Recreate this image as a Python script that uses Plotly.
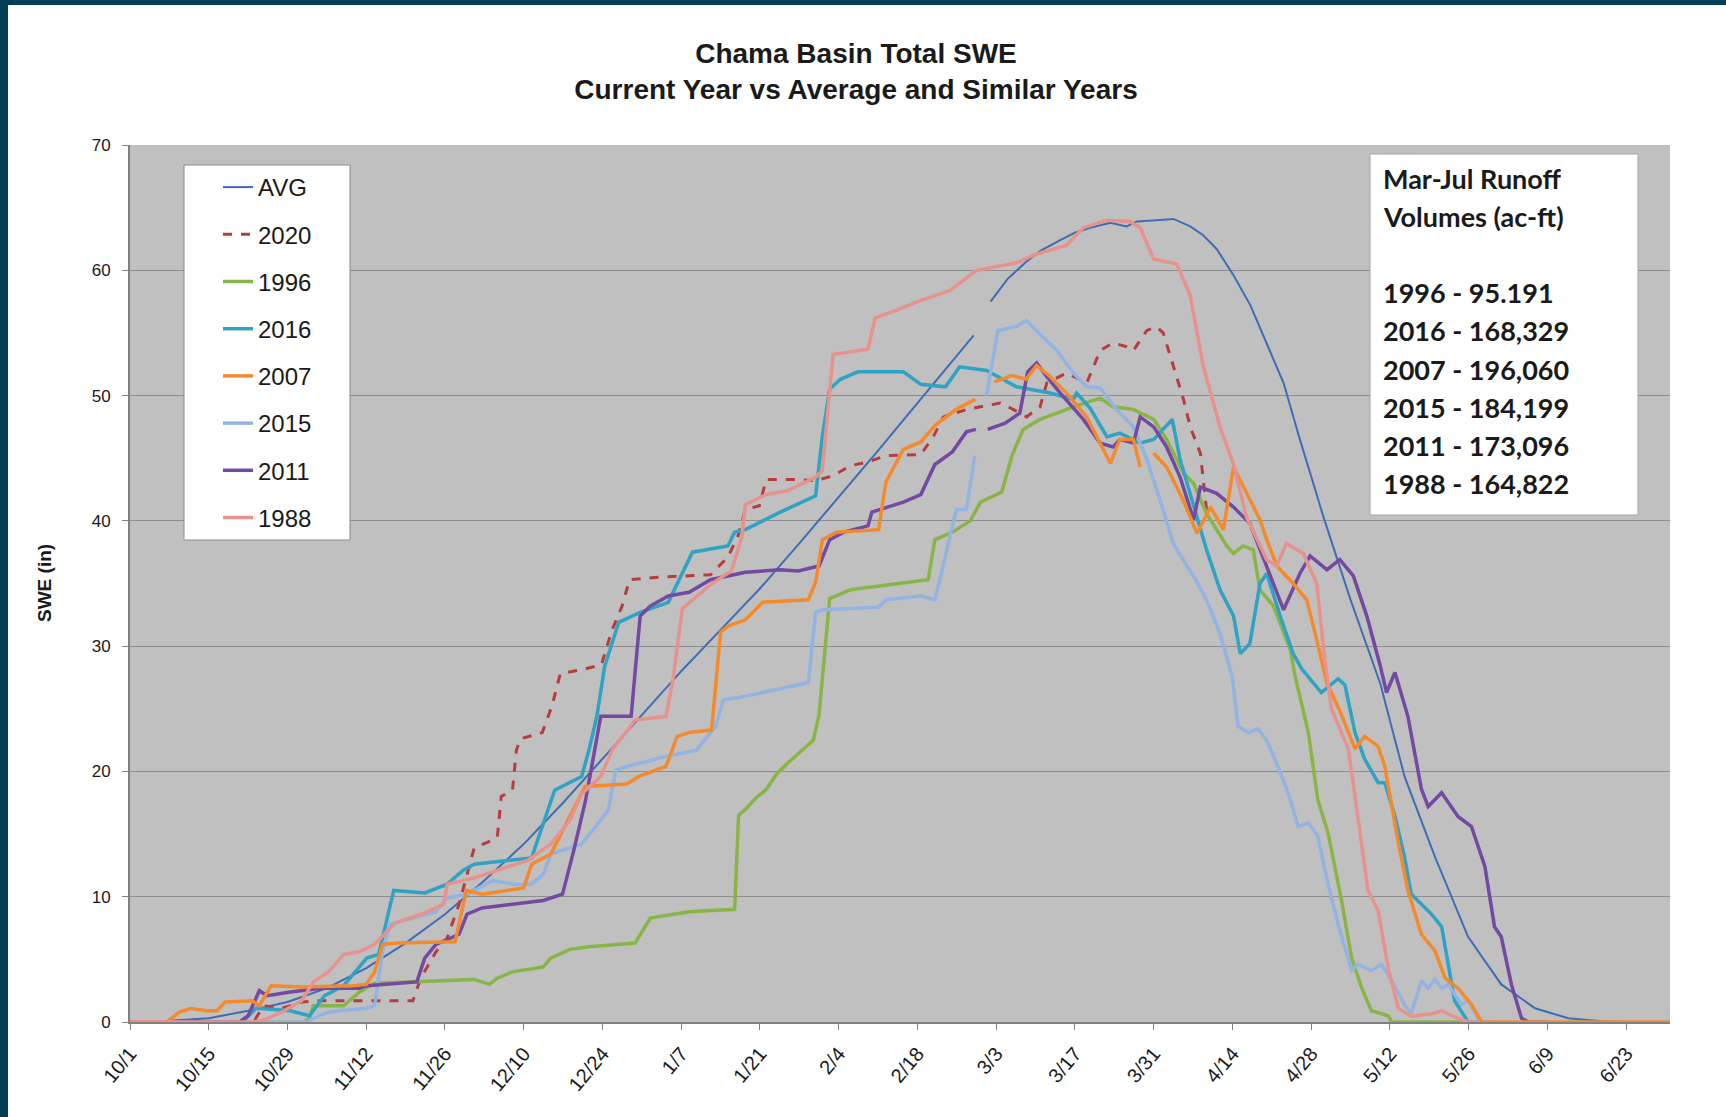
import pandas as pd
import plotly.graph_objects as go

season_start = pd.Timestamp("2019-10-01")

# Day offsets from 10/1 and SWE (in); None marks a gap in the record
avg_days = [0, 7, 14, 21, 28, 35, 42, 49, 56, 63, 70, 77, 84, 91, 98, 105, 112, 119, 126, 133,
            140, 146, 150, 151.5, 153, 156, 159.4, 162, 165.4, 168, 170.7, 174.3, 177.2, 179,
            182.5, 185.5, 188.5, 190.8, 193.2, 196.2, 199.2, 202.1, 205.1, 208, 212.2, 217,
            222.3, 226.6, 232, 237.9, 243.8, 249.8, 255.7, 261.6, 266, 274]
avg_swe = [0, 0.1, 0.3, 0.9, 1.6, 2.7, 4.3, 6.3, 8.6, 11.3, 14.2, 17.5, 21, 24.5, 28, 31.3, 34.6,
           38.2, 41.9, 45.6, 49.4, 52.6, 54.8, None, 57.5, 59.3, 60.7, 61.6, 62.4, 63.0, 63.4,
           63.8, 63.5, 63.9, 64.0, 64.1, 63.5, 62.8, 61.7, 59.6, 57.2, 54.2, 51.0, 46.5, 40.3,
           33.7, 27, 19.6, 13.2, 6.8, 3.0, 1.1, 0.3, 0.05, 0, 0]

y2020_days = [0, 22, 23.7, 27.1, 30.5, 34, 50.3, 51.7, 54.4, 56.4, 58.5, 59.8, 61.2, 63.3, 65.3,
              66, 68, 68.7, 69.4, 73.3, 75, 76.5, 80.1, 83.8, 85.7, 87.5, 88.8, 93.8, 100,
              103.2, 106.3, 108.1, 109.4, 111.9, 113.1, 118.1, 121.9, 125, 128.1, 131.2, 134.3,
              140.6, 142.8, 144.6, 148.8, 154.7, 157, 159.4, 161.8, 163, 166.5, 170.1, 172.5,
              174.8, 177.2, 178.4, 180.8, 182.5, 183.7, 185.5, 187.3, 188.5, 190.3, 191.5]
y2020_swe = [0, 0, 1.3, 1.1, 1.6, 1.7, 1.7, 3.5, 5.6, 6.7, 9.4, 11.5, 13.9, 14.3, 14.7, 18.0,
             18.5, 21.7, 22.6, 23.1, 25.2, 27.8, 28.1, 28.5, 31.3, 33.2, 35.3, 35.5, 35.6, 35.7,
             37.1, 38.8, 40.9, 41.2, 43.3, 43.3, 43.2, 43.6, 44.4, 44.7, 45.2, 45.3, 46.7, 48.3,
             48.9, 49.4, 48.9, 48.3, 49.1, 51.0, 51.8, 51.0, 53.6, 54.2, 53.9, 53.6, 55.2, 55.5,
             55.0, 52.3, 49.7, 47.5, 45.4, 40.5]

y1996_days = [0, 31, 31.9, 32.6, 38, 40.8, 43.5, 51, 61.2, 63.9, 65.3, 68, 73.5, 74.8, 78.2,
              81.6, 89.8, 92.5, 96.6, 99.4, 107.5, 108.2, 109.5, 111.3, 113, 115, 117, 119.4,
              121.5, 122.5, 124.4, 128.1, 133.1, 137.5, 141.9, 143.1, 146.2, 149.4, 151.2, 155,
              156.8, 158.8, 161.8, 164.8, 167.7, 172.5, 174.8, 178.4, 182, 184.3, 187.3, 189.1,
              191.4, 195, 196.2, 197.9, 199.7, 200.9, 203.3, 206.3, 207.1, 209.5, 211.2, 213,
              215.4, 217.2, 219, 220.7, 223.7, 224.3, 238]
y1996_swe = [0, 0, 0.3, 1.3, 1.3, 2.4, 3.1, 3.2, 3.4, 3.0, 3.5, 4.0, 4.4, 5.1, 5.8, 6.0, 6.3,
             8.3, 8.6, 8.8, 9.0, 16.5, 17.0, 17.9, 18.5, 19.8, 20.7, 21.7, 22.5, 24.5, 33.8,
             34.5, 34.8, 35.0, 35.3, 38.5, 39.1, 40.0, 41.5, 42.3, 45.2, 47.3, 48.1, 48.6, 49.1,
             49.8, 49.1, 48.9, 48.1, 46.5, 43.8, 43.0, 40.6, 38.0, 37.4, 38.0, 37.7, 34.5, 33.2,
             29.7, 27.7, 23.1, 17.7, 15.1, 9.7, 5.1, 2.7, 0.9, 0.5, 0, 0]

y2016_days = [0, 20, 22.4, 28.5, 31.9, 34.6, 38, 42.1, 44.2, 46.9, 52.4, 56.4, 59.2, 61.2, 71.4,
              73.5, 75.5, 80.3, 81.6, 83, 84.4, 86.9, 90.7, 95.7, 98.2, 100, 106.3, 107.5,
              109.4, 115.6, 121.9, 123.1, 124.4, 126.3, 129.4, 137.5, 140.6, 145, 147.5, 152.3,
              157.6, 163.6, 167.7, 168.3, 170.7, 173.7, 176, 179.6, 182, 185.3, 186.7, 189.1,
              191.4, 193.8, 196.2, 197.4, 199.1, 200.9, 202.1, 204.5, 206.8, 208.3, 211.8,
              214.8, 216, 217.8, 219.5, 221.9, 223.1, 224.9, 226.6, 227.8, 231.4, 233.2, 234.4,
              235.5, 237.9, 240]
y2016_swe = [0, 0, 1.1, 0.9, 0.5, 2.1, 2.9, 5.1, 5.4, 10.5, 10.3, 11.0, 12.1, 12.6, 13.1, 15.8,
             18.5, 19.6, 21.7, 24.4, 28.4, 31.9, 32.7, 33.5, 35.9, 37.5, 38.0, 39.1, 39.3, 40.7,
             42.0, 46.8, 50.5, 51.3, 51.9, 51.9, 50.9, 50.7, 52.3, 52.0, 50.7, 50.2, 49.7, 50.2,
             49.0, 46.7, 47.0, 46.2, 46.5, 48.1, 44.9, 41.1, 37.7, 34.5, 32.4, 29.4, 30.2, 35.0,
             35.8, 32.4, 29.4, 28.2, 26.3, 27.4, 26.9, 23.1, 21.0, 19.1, 19.1, 16.4, 13.2, 10.2,
             8.6, 7.6, 4.3, 1.7, 0, 0]

y2007_days = [0, 6.5, 8.8, 10.8, 13.5, 15.5, 16.9, 21.7, 23, 25.1, 30.5, 39.4, 42, 43.5, 44.9,
              47.6, 57.8, 59.2, 59.8, 62.6, 70, 71.4, 74.8, 80.9, 88.3, 90.5, 95.3, 97.3, 99.4,
              103.4, 105, 106.3, 109.4, 112.5, 120.6, 121.9, 123.1, 125.6, 133.1, 134.4, 137.5,
              140.6, 143.1, 146.9, 150.3, 152, 153.7, 156.8, 159.3, 161.2, 163.6, 166.5, 170.1,
              172.5, 174.3, 176, 178.4, 179.6, 180.8, 182, 184.3, 187.3, 189.7, 192.1, 194.4,
              196.2, 198, 199.7, 200.9, 202.1, 203.9, 206.8, 209.2, 211, 212.8, 213.6, 215.4,
              217.8, 219.5, 221.9, 223.1, 225.5, 227.2, 229.6, 232, 233.8, 236.1, 238.5, 240.3,
              274]
y2007_swe = [0, 0, 0.8, 1.1, 0.9, 0.9, 1.6, 1.7, 1.3, 2.9, 2.8, 2.9, 3.0, 4.0, 6.2, 6.3, 6.4,
             9.4, 10.5, 10.2, 10.7, 12.6, 13.4, 18.8, 19.0, 19.6, 20.4, 22.8, 23.1, 23.3, 31.1,
             31.6, 32.1, 33.5, 33.7, 35.1, 38.5, 39.1, 39.3, 43.1, 45.7, 46.3, 47.6, 48.9, 49.7,
             None, 51.1, 51.6, 51.3, 52.4, 51.5, 50.2, 48.3, 46.2, 44.6, 46.5, 46.5, 44.3, None,
             45.4, 44.3, 41.6, 39.0, 41.1, 39.3, 44.3, 42.7, 41.1, 40.1, 38.5, 36.4, 35.0, 33.7,
             30.5, 27.0, 26.3, 24.5, 21.8, 22.8, 22.0, 20.4, 14.3, 10.5, 7.0, 5.7, 3.5, 2.7, 1.4,
             0, 0]

y2015_days = [0, 31.5, 32.6, 35.3, 42.1, 43.5, 44.9, 46.2, 50.3, 54.4, 56.4, 59.8, 64.6, 68,
              71.4, 73.5, 74.8, 76.9, 80.3, 83.7, 85, 86.4, 88.4, 95.3, 100.7, 104.1, 105.5,
              109.4, 115.6, 120.6, 121.9, 123.1, 133.1, 134.4, 140.6, 143.1, 144.4, 146.9, 148.7,
              150.2, 151.2, 152.3, 154.3, 157.5, 159.4, 161.8, 164.8, 167.7, 170.1, 172.5, 175.4,
              178.4, 180.8, 183.1, 185.5, 187.9, 189.1, 191.4, 193.8, 196, 197, 198.8, 200.6,
              202.3, 204.1, 205.9, 207.7, 209.5, 211.2, 213, 214.8, 217.2, 218.3, 220.7, 222.5,
              224.3, 226.6, 227.8, 229.6, 230.8, 232, 233.2, 234.4, 235.5, 236.7, 237.9, 239.7,
              240.3, 242]
y2015_swe = [0, 0, 0.3, 0.8, 1.1, 1.3, 5.6, 7.8, 8.3, 8.8, 9.9, 10.2, 11.3, 11.0, 11.0, 11.8,
             13.4, 13.7, 14.2, 16.1, 16.9, 20.1, 20.4, 21.2, 21.7, 23.6, 25.7, 26.0, 26.6, 27.1,
             32.7, 32.9, 33.1, 33.7, 34.0, 33.7, 36.1, 40.9, 40.9, 45.2, None, 50.0, 55.2, 55.5,
             56.0, 54.9, 53.6, 51.8, 50.7, 50.6, 48.9, 47.5, 44.9, 41.7, 38.2, 36.4, 35.6, 33.7,
             31.0, 27.5, 23.6, 23.1, 23.4, 22.3, 20.4, 18.3, 15.6, 15.9, 14.8, 11.0, 7.8, 4.1,
             4.6, 4.1, 4.6, 3.3, 1.4, 0.7, 3.3, 2.7, 3.4, 2.7, 3.0, 2.2, 1.4, 1.7, 0.3, 0, 0]

y2011_days = [0, 19.5, 21, 23, 24.4, 28.5, 34, 40.8, 42.1, 51, 52.4, 54.4, 58.5, 59.9, 62.6, 68,
              73.5, 76.9, 78.9, 81, 83.7, 89.1, 90.7, 92.5, 95.7, 99.4, 103.2, 109.4, 115.6,
              118.8, 122.5, 124.4, 126.9, 131.2, 131.9, 137.5, 140.6, 143.1, 146.2, 148.7, 150.4,
              151.4, 152.5, 155.6, 158.2, 159.6, 161.2, 163, 165.4, 169.5, 172.5, 174.8, 176,
              178.4, 179.6, 182, 184.3, 186.7, 189.1, 190.3, 193.2, 196.2, 199.1, 202.1, 205.1,
              208, 209.8, 212.8, 215.1, 217.5, 219.9, 222.3, 223.4, 224.9, 227.2, 229.6, 230.8,
              233.2, 236.1, 238.5, 240.9, 242.6, 243.8, 245.6, 247.4, 248.6, 252]
y2011_swe = [0, 0, 0.5, 2.5, 2.1, 2.4, 2.7, 2.7, 2.9, 3.2, 5.1, 6.2, 7.0, 8.6, 9.1, 9.4, 9.7,
             10.2, 13.7, 17.7, 24.4, 24.4, 32.4, 33.2, 34.0, 34.3, 35.3, 35.9, 36.1, 36.0, 36.4,
             38.5, 39.1, 39.6, 40.7, 41.5, 42.1, 44.5, 45.5, 47.1, 47.3, None, 47.3, 47.8, 48.6,
             51.9, 52.6, 51.5, 50.2, 48.1, 46.2, 45.9, 46.5, 46.2, 48.3, 47.5, 45.9, 43.5, 40.1,
             42.7, 42.2, 41.1, 39.8, 36.4, 32.9, 35.8, 37.2, 36.1, 36.9, 35.6, 32.4, 28.4, 26.3,
             27.9, 24.4, 18.6, 17.2, 18.3, 16.4, 15.6, 12.4, 7.6, 6.8, 3.0, 0.3, 0, 0]

y1988_days = [0, 22, 24, 27, 30.5, 32.6, 35.3, 38, 40.8, 43.5, 47.1, 51.8, 55.8, 56.4, 61.2,
              65.3, 70.7, 74.8, 78.2, 80.3, 83.7, 85.7, 89.8, 95.3, 96.6, 98.2, 103.2, 106.9,
              108.8, 109.4, 113.1, 116.9, 121.9, 123.1, 125, 131.2, 132.5, 136.2, 140.6, 145.8,
              150.5, 157.7, 160.6, 166.5, 169.5, 173.7, 177.8, 179.6, 182, 186.1, 188.5, 190.8,
              193.8, 196.2, 198.5, 202.1, 203.9, 205.6, 208.6, 211, 212.4, 213.6, 216.6, 218.3,
              220.1, 221.9, 223.7, 225.5, 227.8, 232, 233.2, 235, 237.9, 240]
y1988_swe = [0, 0, 0.2, 0.8, 1.7, 3.2, 4.0, 5.4, 5.6, 6.2, 7.9, 8.6, 9.4, 11.0, 11.5, 12.1, 12.9,
             14.2, 16.1, 18.2, 19.6, 21.7, 24.1, 24.4, 27.5, 33.0, 34.9, 36.0, 38.7, 41.3, 42.1,
             42.4, 43.5, 44.0, 53.3, 53.7, 56.2, 56.8, 57.6, 58.4, 60.0, 60.6, 61.2, 62.0, 63.4,
             64.0, 63.9, 63.4, 60.9, 60.5, 58.0, 52.4, 47.5, 44.5, 40.3, 36.9, 36.4, 38.2, 37.4,
             35.0, 29.0, 25.0, 21.8, 16.4, 10.5, 8.9, 4.3, 1.1, 0.45, 0.7, 0.9, 0.5, 0, 0]

runoff_years = ["1996", "2016", "2007", "2015", "2011", "1988"]
runoff_volumes = ["95.191", "168,329", "196,060", "184,199", "173,096", "164,822"]

# name, days, values, colour, width, dash, legend position (drawing order differs)
series = [
    ("AVG", avg_days, avg_swe, "#3d6db5", 2, "solid", 1),
    ("2020", y2020_days, y2020_swe, "#b83c3c", 3, "dash", 2),
    ("1996", y1996_days, y1996_swe, "#88b545", 3.5, "solid", 3),
    ("2016", y2016_days, y2016_swe, "#2fa3c3", 3.5, "solid", 4),
    ("2015", y2015_days, y2015_swe, "#93b3e2", 3.5, "solid", 6),
    ("2011", y2011_days, y2011_swe, "#7349a2", 3.5, "solid", 7),
    ("2007", y2007_days, y2007_swe, "#f58a2c", 3.5, "solid", 5),
    ("1988", y1988_days, y1988_swe, "#e8928e", 3.5, "solid", 8),
]

W, H = 1726, 1117
ML, MR, MT, MB = 130, 56, 145, 95
PW, PH = W - ML - MR, H - MT - MB


def px_x(x):
    return (x - ML) / PW


def px_y(y):
    return (H - MB - y) / PH


fig = go.Figure()
for name, days, vals, color, width, dash, rank in series:
    dates = season_start + pd.to_timedelta(days, unit="D")
    fig.add_trace(go.Scatter(
        x=dates, y=vals, mode="lines", name=name,
        line=dict(color=color, width=width, dash=dash),
        legendrank=rank, legendgroup=name,
    ))

fig.update_xaxes(
    type="date",
    range=[season_start, season_start + pd.Timedelta(days=273.8)],
    tick0=season_start, dtick=14 * 86400000, tickformat="%-m/%-d",
    tickangle=-50, tickfont=dict(family="Liberation Sans, Arial", size=20, color="#1a1a1a"),
    ticks="outside", ticklen=6, tickcolor="#808080", ticklabelstandoff=4,
    showgrid=False, showline=True, linecolor="#808080", linewidth=2,
)
fig.update_yaxes(
    range=[0, 70], dtick=10,
    tickfont=dict(family="Liberation Sans, Arial", size=17, color="#1a1a1a"),
    ticks="outside", ticklen=6, tickcolor="#808080", ticklabelstandoff=8,
    showgrid=True, gridcolor="#8e8e8e", gridwidth=1,
    showline=True, linecolor="#808080", linewidth=2, zeroline=False,
)

shapes = [
    # dark frame around the slide
    dict(type="rect", xref="paper", yref="paper", x0=px_x(0), x1=px_x(8),
         y0=px_y(H), y1=px_y(0), fillcolor="#033f54", line_width=0),
    dict(type="rect", xref="paper", yref="paper", x0=px_x(0), x1=px_x(W),
         y0=px_y(5), y1=px_y(0), fillcolor="#033f54", line_width=0),
    # legend box
    dict(type="rect", xref="paper", yref="paper", x0=px_x(184), x1=px_x(350),
         y0=px_y(540), y1=px_y(165), fillcolor="white",
         line=dict(color="#8c8c8c", width=1), layer="above"),
    # runoff box
    dict(type="rect", xref="paper", yref="paper", x0=px_x(1370), x1=px_x(1638),
         y0=px_y(515), y1=px_y(154), fillcolor="white",
         line=dict(color="#a6a6a6", width=1), layer="above"),
]

annotations = [
    dict(text="<b>SWE (in)</b>", xref="paper", yref="paper", x=px_x(32), y=0.5,
         textangle=-90, showarrow=False,
         font=dict(family="Liberation Sans, Arial", size=19, color="#1a1a1a")),
]

box_font = dict(family="Lato, Open Sans", size=27, color="#1a1a1a")
header = ["Mar-Jul Runoff", "Volumes (ac-ft)"]
for i, line in enumerate(header):
    annotations.append(dict(text="<b>" + line + "</b>", xref="paper", yref="paper",
                            x=px_x(1381), y=px_y(178.3 + 38.6 * i), xanchor="left",
                            yanchor="middle", showarrow=False, font=box_font))
for i, (yr, vol) in enumerate(zip(runoff_years, runoff_volumes)):
    annotations.append(dict(text="<b>" + yr + " - " + vol + "</b>", xref="paper", yref="paper",
                            x=px_x(1381), y=px_y(292.8 + 38.1 * i), xanchor="left",
                            yanchor="middle", showarrow=False, font=box_font))

fig.update_layout(
    width=W, height=H,
    margin=dict(l=ML, r=MR, t=MT, b=MB),
    paper_bgcolor="white", plot_bgcolor="#c0c0c0",
    title=dict(
        text="Chama Basin Total SWE<br>Current Year vs Average and Similar Years",
        x=856 / W, xanchor="center", y=1 - 63 / H, yanchor="middle",
        font=dict(family="Liberation Sans, Arial", size=28, color="#1a1a1a", weight="bold"),
    ),
    legend=dict(
        x=px_x(184), y=px_y(165), xanchor="left", yanchor="top",
        bgcolor="rgba(0,0,0,0)", borderwidth=0,
        font=dict(family="Liberation Sans, Arial", size=24, color="#1a1a1a"),
        tracegroupgap=13, indentation=34,
    ),
    shapes=shapes,
    annotations=annotations,
    showlegend=True,
)

fig.write_html("out.html", config={"displayModeBar": False},
               post_script="document.body.style.margin='0px';")
